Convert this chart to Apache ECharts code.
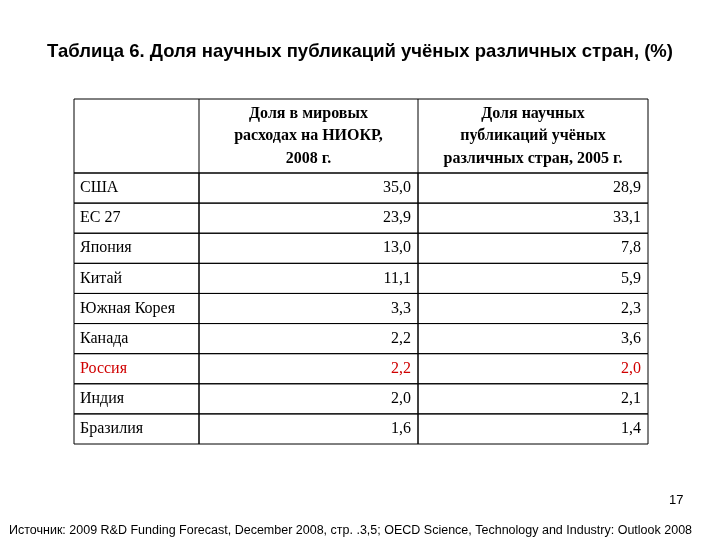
<!DOCTYPE html>
<html><head><meta charset="utf-8">
<script src="https://cdn.jsdelivr.net/npm/echarts@6/dist/echarts.min.js"></script>
<style>html,body{margin:0;background:#fff}#c{width:720px;height:540px}</style>
</head><body><div id="c"></div>
<script>
const countries = ['США', 'ЕС 27', 'Япония', 'Китай', 'Южная Корея', 'Канада', 'Россия', 'Индия', 'Бразилия'];
const rdShare = ['35,0', '23,9', '13,0', '11,1', '3,3', '2,2', '2,2', '2,0', '1,6'];
const pubShare = ['28,9', '33,1', '7,8', '5,9', '2,3', '3,6', '2,0', '2,1', '1,4'];
const headers = ['', 'Доля в мировых\nрасходах на НИОКР,\n2008 г.', 'Доля научных\nпубликаций учёных\nразличных стран, 2005 г.'];
const highlight = 'Россия';

// column edges in table units (px from table left)
const colEdges = [0, 125, 344, 574];
const serif = '"Liberation Serif", "DejaVu Serif", serif';

const cells = [];
countries.forEach((c, i) => {
  cells.push([i, 0, c]);
  cells.push([i, 1, rdShare[i]]);
  cells.push([i, 2, pubShare[i]]);
});

const chart = echarts.init(document.getElementById('c'));
chart.setOption({
  animation: false,
  title: [{
    text: 'Таблица 6. Доля научных публикаций учёных различных стран, (%)',
    left: 'center', top: 37,
    textStyle: {fontFamily: '"Liberation Sans", Arial', fontSize: 18.5, fontWeight: 'bold', color: '#000'}
  }, {
    text: 'Источник: 2009 R&D Funding Forecast, December 2008, стр. .3,5; OECD Science, Technology and Industry: Outlook 2008',
    left: 4, top: 519,
    textStyle: {fontFamily: '"Liberation Sans", Arial', fontSize: 12.5, fontWeight: 'normal', color: '#000'}
  }, {
    text: '17', left: 664, top: 489,
    textStyle: {fontFamily: '"Liberation Sans", Arial', fontSize: 13, fontWeight: 'normal', color: '#000'}
  }],
  grid: {left: 74, right: 72, top: 173, bottom: 96},
  xAxis: {type: 'value', min: 0, max: 574, show: false},
  yAxis: {type: 'category', data: countries, inverse: true, show: false},
  graphic: [{
    type: 'rect', shape: {x: 74, y: 99, width: 574, height: 74},
    style: {fill: 'none', stroke: '#000', lineWidth: 1}
  }].concat([1, 2].map(j => ({
    type: 'line', shape: {x1: 74 + colEdges[j], y1: 99, x2: 74 + colEdges[j], y2: 173},
    style: {stroke: '#000', lineWidth: 1}
  }))).concat([1, 2].map(j => ({
    type: 'text', x: 74 + (colEdges[j] + colEdges[j + 1]) / 2, y: 136,
    style: {text: headers[j], align: 'center', verticalAlign: 'middle', font: 'bold 16px ' + serif, lineHeight: 22.5, fill: '#000'}
  }))),
  series: [{
    type: 'custom',
    data: cells,
    renderItem: function (params, api) {
      const row = api.value(0), col = api.value(1);
      const p0 = api.coord([colEdges[col], row]);
      const p1 = api.coord([colEdges[col + 1], row]);
      const h = api.size([0, 1])[1];
      const name = countries[row];
      const color = name === highlight ? '#d00000' : '#000';
      return {
        type: 'group',
        children: [{
          type: 'rect',
          shape: {x: p0[0], y: p0[1] - h / 2, width: p1[0] - p0[0], height: h},
          style: {fill: 'none', stroke: '#000', lineWidth: 1}
        }, {
          type: 'text',
          x: col === 0 ? p0[0] + 6 : p1[0] - 7, y: p0[1],
          style: {text: cells[params.dataIndex][2], align: col === 0 ? 'left' : 'right', verticalAlign: 'middle',
            font: '16px ' + serif, fill: color}
        }]
      };
    }
  }]
});
</script></body></html>
